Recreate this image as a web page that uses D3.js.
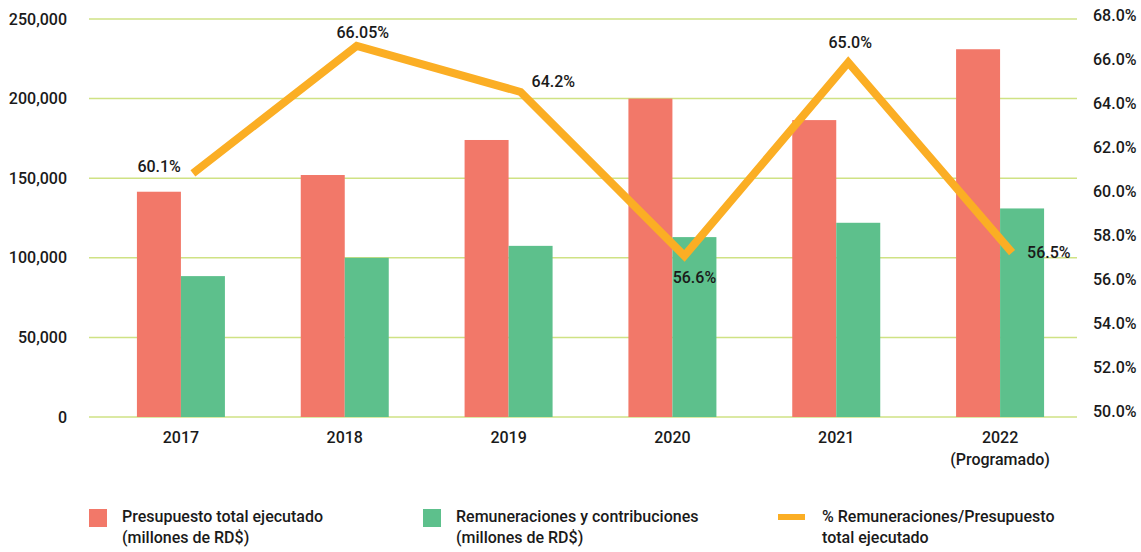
<!DOCTYPE html>
<html>
<head>
<meta charset="utf-8">
<script src="https://cdn.jsdelivr.net/npm/d3@7"></script>
<style>
  body { margin: 0; background: #fff; }
  text { font-family: Roboto, "Noto Sans", sans-serif; fill: #1a1a1a; }
</style>
</head>
<body>
<div id="chart-area"></div>
<script>
// data
var years = ["2017", "2018", "2019", "2020", "2021", "2022"];
var yearSub = ["", "", "", "", "", "(Programado)"];
var presupuesto = [141500, 152000, 174000, 200000, 186500, 231000];
var remuneraciones = [88500, 100000, 107500, 113000, 122000, 131000];
// % line as drawn on the right axis, and the labels printed next to it
var pctValues = [60.8, 66.6, 64.5, 57.05, 65.85, 57.2];
var pctLabels = ["60.1%", "66.05%", "64.2%", "56.6%", "65.0%", "56.5%"];
var leftTicks = [0, 50000, 100000, 150000, 200000, 250000];
var rightTicks = [50, 52, 54, 56, 58, 60, 62, 64, 66, 68];
var legendLabels = [
  ["Presupuesto total ejecutado", "(millones de RD$)"],
  ["Remuneraciones y contribuciones", "(millones de RD$)"],
  ["% Remuneraciones/Presupuesto", "total ejecutado"]
];

var colors = { red: "#f27869", green: "#5dc08c", orange: "#fbae24", grid: "#cfe284" };

var svg = d3.select("#chart-area").append("svg")
  .attr("width", 1141)
  .attr("height", 552);

var x0 = d3.scaleBand().domain(years).range([99, 1082]);
var barW = 44;
var y = d3.scaleLinear().domain([0, 250000]).range([417, 19]);
var yR = d3.scaleLinear().domain([50, 68]).range([411, 15]);

// gridlines
svg.append("g").selectAll("line")
  .data(leftTicks)
  .enter().append("line")
  .attr("x1", 89).attr("x2", 1077)
  .attr("y1", d => y(d)).attr("y2", d => y(d))
  .attr("stroke", colors.grid)
  .attr("stroke-width", 1.5);

// left axis
var leftAxis = svg.append("g")
  .attr("transform", "translate(67,0)")
  .call(d3.axisLeft(y).tickValues(leftTicks).tickSize(0).tickPadding(0)
    .tickFormat(d3.format(",")));
leftAxis.select(".domain").remove();
leftAxis.selectAll("text")
  .style("font-size", "16px").style("font-weight", 500)
  .attr("fill", "#1a1a1a");

// right axis
var rightAxis = svg.append("g")
  .attr("transform", "translate(1093,0)")
  .call(d3.axisRight(yR).tickValues(rightTicks).tickSize(0).tickPadding(0)
    .tickFormat(d => d3.format(".1f")(d) + "%"));
rightAxis.select(".domain").remove();
rightAxis.selectAll("text")
  .style("font-size", "16px").style("font-weight", 500)
  .attr("fill", "#1a1a1a");

// bars
var cx = d => x0(d) + x0.bandwidth() / 2;

svg.append("g").selectAll("rect")
  .data(years)
  .enter().append("rect")
  .attr("x", d => cx(d) - barW)
  .attr("y", (d, i) => y(presupuesto[i]))
  .attr("width", barW)
  .attr("height", (d, i) => y(0) - y(presupuesto[i]))
  .attr("fill", colors.red);

svg.append("g").selectAll("rect")
  .data(years)
  .enter().append("rect")
  .attr("x", d => cx(d))
  .attr("y", (d, i) => y(remuneraciones[i]))
  .attr("width", barW)
  .attr("height", (d, i) => y(0) - y(remuneraciones[i]))
  .attr("fill", colors.green);

// x labels
var xl = svg.append("g").selectAll("text")
  .data(years)
  .enter().append("text")
  .attr("text-anchor", "middle")
  .style("font-size", "16px").style("font-weight", 500);
xl.append("tspan")
  .attr("x", d => cx(d)).attr("y", 443)
  .text(d => d);
xl.append("tspan")
  .attr("x", d => cx(d)).attr("y", 465)
  .text((d, i) => yearSub[i]);

// % line
var lineShift = 12;
var line = d3.line()
  .x((d, i) => cx(years[i]) + lineShift)
  .y(d => yR(d));

svg.append("path")
  .datum(pctValues)
  .attr("d", line)
  .attr("fill", "none")
  .attr("stroke", colors.orange)
  .attr("stroke-width", 8)
  .attr("stroke-linejoin", "miter");

// label placement next to each point: [dx, dy, anchor]
var labelPlace = [[-12, -1, "end"], [6, -8, "middle"], [11, -5, "start"],
  [10, 27, "middle"], [2, -14, "middle"], [15, 5, "start"]];

svg.append("g").selectAll("text")
  .data(pctLabels)
  .enter().append("text")
  .attr("x", (d, i) => cx(years[i]) + lineShift + labelPlace[i][0])
  .attr("y", (d, i) => yR(pctValues[i]) + labelPlace[i][1])
  .attr("text-anchor", (d, i) => labelPlace[i][2])
  .style("font-size", "16px").style("font-weight", 500)
  .text(d => d);

// legend
var legendX = [89, 423, 778];
var lg = svg.append("g").selectAll("g")
  .data(legendLabels)
  .enter().append("g")
  .attr("transform", (d, i) => "translate(" + legendX[i] + ",0)");

lg.filter((d, i) => i < 2).append("rect")
  .attr("x", 0).attr("y", 509)
  .attr("width", 18).attr("height", 18)
  .attr("fill", (d, i) => i == 0 ? colors.red : colors.green);

lg.filter((d, i) => i == 2).append("rect")
  .attr("x", 0).attr("y", 514)
  .attr("width", 27).attr("height", 6)
  .attr("fill", colors.orange);

var lt = lg.append("text")
  .style("font-size", "16px").style("font-weight", 500);
lt.append("tspan")
  .attr("x", (d, i) => i == 2 ? 44 : 33).attr("y", 522)
  .text(d => d[0]);
lt.append("tspan")
  .attr("x", (d, i) => i == 2 ? 44 : 33).attr("y", 543)
  .text(d => d[1]);
</script>
</body>
</html>
